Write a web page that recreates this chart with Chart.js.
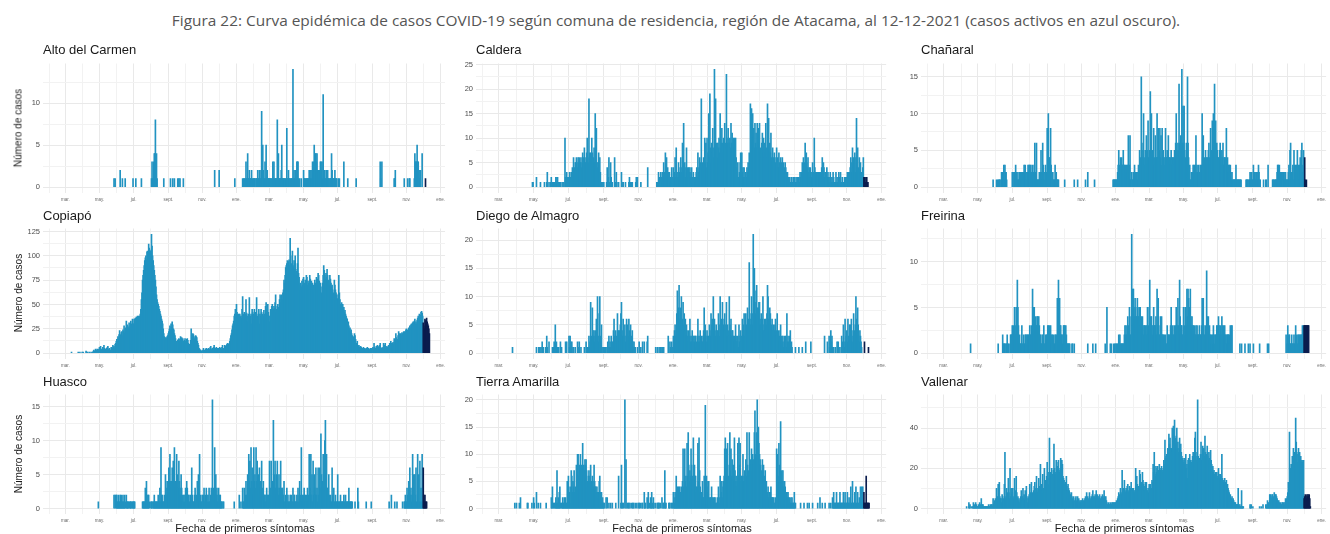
<!DOCTYPE html>
<html lang="es">
<head>
<meta charset="utf-8">
<script src="https://cdn.jsdelivr.net/npm/chart.js"></script>
<style>
  body { margin: 0; background: #fff; width: 1330px; height: 534px; position: relative; overflow: hidden;
         font-family: "Liberation Sans", Arial, sans-serif; }
  canvas { position: absolute; }
  #titulo { position: absolute; left: 676px; top: 20px; white-space: nowrap; font-family: "Open Sans", "Noto Sans", sans-serif;
            font-size: 15px; color: #555; transform: translate(-50%, -50%); }
  .panel { position: absolute; font-size: 13px; line-height: 16px; color: #1a1a1a; white-space: nowrap; }
  .eje-y { position: absolute; font-size: 10px; color: #1a1a1a; white-space: nowrap; transform: translate(-50%, -50%) rotate(-90deg); }
  .eje-x { position: absolute; font-size: 11px; color: #1a1a1a; white-space: nowrap; transform: translate(-50%, -50%); }
</style>
</head>
<body>
<div id="titulo">Figura 22: Curva epidémica de casos COVID-19 según comuna de residencia, región de Atacama, al 12-12-2021 (casos activos en azul oscuro).</div>
<script>
// Comunas (panels), left to right, top to bottom
const comunas = ['Alto del Carmen', 'Caldera', 'Chañaral', 'Copiapó', 'Diego de Almagro', 'Freirina', 'Huasco', 'Tierra Amarilla', 'Vallenar'];
const mesesEtiqueta = ['ene.', 'feb.', 'mar.', 'abr.', 'may.', 'jun.', 'jul.', 'ago.', 'sept.', 'oct.', 'nov.', 'dic.'];
const pasosY = [5, 5, 5, 25, 5, 5, 5, 5, 20];
const inicioActivos = '2021-12-01';
const ejeDesde = '2020-01-21';
const ejeHasta = '2022-01-09';

// Daily cases by date of first symptoms.
// One array per month, from March 2020 to December 2021; days not listed are 0.
const altoDelCarmen = [
  [], [],
  [0,0,0,0,0,0,0,0,0,0,0,0,0,0,0,0,0,0,0,0,0,0,0,0,0,0,1,0,1],
  [0,0,0,0,0,0,2,0,0,0,1,0,0,0,0,1,0,0,0,0,0,0,0,0,0,0,0,0,0,1],
  [0,0,0,0,1,0,0,0,0,0,0,0,0,0,1],
  [0,1,3,1,1,3,4,4,8,2,4,1,0,0,0,0,0,0,0,0,0,0,0,1],
  [0,0,0,0,1,0,0,0,1,0,0,1,0,0,0,0,0,1,0,1,0,1,0,0,0,0,0,1],
  [],
  [0,0,0,0,0,0,0,0,0,0,0,0,0,0,0,0,0,0,0,0,0,0,2],
  [2,0,0,0,0,0,0,0,0,0,0,0,0,0,0,0,0,0,0,0,0,0,0,0,0,0,0,0,1],
  [0,0,0,0,0,0,0,0,0,0,0,1,0,1,1,0,1,3,1,1,4,1,1,2,1,1,1,2,1,0,1],
  [1,1,1,0,1,1,1,2,1,1,2,2,1,1,9,1,5,2,1,1,3,1,5,1,2,1,1,1],
  [1,1,1,0,1,1,3,1,3,1,1,1,1,1,8,2,4,1,1,1,1,2,5,1,1,1,1,1,0,1,1],
  [7,1,1,2,1,1,1,0,1,1,1,14,1,2,1,1,2,1,3,3,3,1,0,1,0,0,1],
  [2,1,1,1,0,1,1,1,1,1,2,1,1,2,1,2,3,2,3,5,2,4,4,3,4,2,2,2,1,2,3],
  [3,2,3,1,11,1,2,2,1,1,2,1,2,1,1,0,1,1,1,4,2,1,1,1,1,2,1,1,1],
  [0,1,0,1,0,0,0,0,0,0,0,3,0,0,0,0,0,0,1],
  [0,0,1],
  [0,0,0,0,0,0,0,0,0,0,0,0,0,0,3,1,0,3],
  [0,0,0,0,0,0,0,0,0,1,1,2,0,0,0,0,0,0,0,0,0,0,0,0,0,0,0,1],
  [0,0,1,0,0,1,1,0,0,0,0,0,0,0,1,4,3,3,3,5,3,3,2,1,2,2,0,0,4],
  [0,0,0,0,1]
];
const caldera = [
  [],
  [0,0,0,0,0,0,0,0,0,0,0,0,0,0,0,0,0,0,0,0,0,0,0,0,0,0,0,0,1,1],
  [0,0,0,0,0,2,0,0,0,0,0,0,1,0,0,0,0,0,0,1,0,0,0,1,3,0,0,1,0,0,1],
  [2,0,1,1,1,0,1,1,2,1,2,2,1,0,1,1,1,0,0,1,0,0,1,0,10,2,1,3,2,1],
  [2,1,3,1,2,3,1,4,2,6,3,4,5,5,6,5,4,6,5,6,5,5,6,4,5,7,6,5,8,6,5],
  [5,7,10,6,5,18,7,5,7,6,10,7,5,6,8,5,15,6,12,5,4,5,7,5,6,3,1,1,1,0,1],
  [1,0,0,0,0,1,4,1,2,6,1,0,5,2,0,1,0,0,0,6,1,0,3,1,0,0,1],
  [0,3,1,0,1,0,0,0,1,0,0,0,0,0,1,2,1,1,0,1,1,0,0,0,0,0,1,2,1,2],
  [0,0,0,0,1,0,0,0,0,0,0,0,0,0,0,0,4],
  [0,0,1,1,1,3,1,2,1,3,2,1,3,2,5,3,2,7,3,6,2,4,2,3,3,1,2,1,4,1,2],
  [4,2,3,6,2,8,3,2,3,5,2,3,4,6,3,4,9,4,13,3,5,2,4,8,3,4,2,4,3,4,2],
  [3,4,2,1,3,1,2,1,2,3,4,2,7,3,4,6,3,5,18,4,5,3,6,4,10,5,9,4],
  [10,5,7,15,6,19,8,5,9,7,12,6,8,24,9,18,7,9,6,9,8,10,7,15,8,9,12,9,7,10,9],
  [13,9,8,23,10,9,12,9,9,10,8,13,9,11,9,10,8,10,9,10,6,4,3,5,2,1,3,5,7,4],
  [7,3,4,2,4,2,1,3,2,4,3,5,4,7,6,17,8,16,9,15,10,12,8,13,9,11,8,13,10,12,9],
  [13,7,8,6,9,11,7,10,6,9,7,13,8,6,17,9,14,8,9,7,11,6,5,8,6,5,7,4,5,6],
  [8,4,6,4,7,5,4,6,4,5,6,4,5,3,4,5,4,3,2,3,2,2,1,2,1,1,2,1,1,2,1],
  [2,1,1,2,1,2,1,2,2,1,3,2,3,2,5,3,6,4,5,9,6,7,5,4,6,3,4,2,4,3,2],
  [3,5,2,3,10,4,3,2,3,2,3,2,3,3,2,3,2,4,6,3,5,4,2,3,3,2,4,2,3,2],
  [2,1,3,2,1,2,1,3,2,1,1,1,3,1,2,1,1,3,2,1,3,1,1,2,1,1,1,2,1,2,1],
  [2,3,1,3,2,3,4,6,3,5,8,4,6,5,7,3,6,14,5,8,4,3,6,3,5,3,3,3,4,6],
  [2,2,2,1,1,2,1,1]
];
const chanaral = [
  [], [],
  [0,0,0,0,0,0,0,0,0,0,0,0,0,0,0,0,0,0,0,0,0,0,0,0,0,0,0,1],
  [0,0,1,0,1,0,1,1,1,0,1,2,1,2,2,3,1,3,2,2,1],
  [2,2,0,2,2,1,3,2,0,1,2,1,1,2,2,2,1,2,2,1,2,3,2,3,2,1,2,2,3,2,3],
  [3,2,3,2,2,3,1,2,3,6,2,1,6,1,1,1,1,2,1,2,5,2,1,6,3,2,1,2,3,2,2],
  [8,5,10,4,4,2,8,3,2,1,2,1,1,1,3,1,2,1,1,1,1],
  [0,1,0,0,0,0,0,0,0,0,0,0,0,0,0,0,0,0,1,0,0,0,0,0,1],
  [0,0,0,0,0,0,0,1,0,0,0,2,0,0,0,0,0,0,0,0,0,0,0,1],
  [0,0,0,0,0,0,0,0,0,0,0,0,0,0,0,0,0,0,0,0,0,0,0,0,0,0,1,1,1,1,1],
  [1,1,1,2,3,5,3,2,4,3,4,3,3,5,3,3,2,3,2,3,2,3,7,2,3,7,1,1,2,1,1],
  [2,1,3,1,2,1,2,1,2,3,2,5,3,4,15,6,4,5,10,4,3,5,4,7,3,5,9,4],
  [4,5,13,6,10,4,5,4,8,4,3,7,4,4,10,4,8,4,5,8,4,7,3,8,4,5,4,3,4,8,4],
  [4,5,4,7,4,4,3,4,5,4,3,4,4,3,5,4,6,10,4,5,6,5,14,6,4,7,5,16,6,11],
  [6,11,5,4,2,6,4,15,6,4,2,3,1,1,2,2,2,3,2,3,1,3,7,2,3,2,2,3,2,1,3],
  [2,3,10,4,7,3,4,3,5,3,4,4,3,5,6,4,3,8,4,5,9,6,10,5,14,6,9,5,6,5],
  [4,4,3,5,6,4,3,5,4,6,3,4,4,3,4,8,3,4,2,3,3,2,3,2,1,2,1,1,1,1,1],
  [1,3,1,1,1,1,1,1,1,1,1,0,0,0,0,0,0,0,0,1,1,1,1,0,1,1,2,1,2,2,1],
  [1,3,1,2,2,1,1,2,1,2,3,2,1,1,0,0,0,0,0,1,0,0,0,1,1,0,0,3],
  [0,0,0,0,0,1,1,1,0,1,1,1,1,2,3,3,2,3,1,2,1,2,2,1,2,2,1,2,2,1,1],
  [1,1,2,3,1,5,6,2,1,2,3,1,5,3,1,3,2,3,5,2,3,1,3,4,3,5,6,2,3,5],
  [0,4,1,0,1]
];
const copiapo = [
  [0,0,0,0,0,0,0,0,0,0,0,1,0,0,0,0,0,0,0,0,0,0,0,1,0,0,1,0,0,0,1],
  [0,1,0,0,0,0,2,1,0,1,0,0,1,0,0,1,0,0,1,2,3,2,1,4,3,2,4,3,2,4],
  [6,5,7,3,4,2,6,4,8,5,3,4,2,5,6,7,3,4,5,2,3,6,4,5,8,6,7,5,9,10,12],
  [14,12,17,15,19,23,16,19,21,22,18,24,22,28,20,25,26,33,25,29,27,25,31,26,28,33,30,29,35,30],
  [30,35,33,36,34,37,35,38,36,38,37,38,40,45,55,62,75,80,85,90,95,98,100,96,104,105,103,112,108,106,104],
  [105,122,110,100,95,90,85,80,75,68,60,55,52,50,48,45,43,40,38,35,33,30,25,20,17,16,15,16,15,17,18],
  [20,22,25,28,24,30,27,32,29,25,24,20,18,15,10,12,11,13,14,15,12,14,17,13,16,14,15,12,10,13],
  [15,12,10,14,15,13,10,8,9,7,13,25,18,16,20,19,17,15,13,18,17,16,12,10,8,5,4,3,3,2,2],
  [2,3,5,2,3,2,4,5,3,4,2,5,4,3,6,7,3,4,5,3,6,8,5,4,5,6,3,5,4,5],
  [4,6,5,3,4,6,8,5,4,5,8,7,5,8,9,10,8,9,10,12,15,18,20,24,28,30,33,38,40,45,42],
  [50,42,40,38,40,39,40,37,38,36,45,58,40,38,42,39,40,55,41,38,32,40,36,57,35,38,40,30,45,42,38],
  [40,45,38,42,40,57,36,38,40,45,30,40,38,45,42,40,35,38,44,40,35,48,52,40,45,50,42,38],
  [32,38,45,40,48,50,42,45,48,46,52,60,45,42,48,50,47,45,55,60,52,58,60,55,62,65,75,72,80,88,90],
  [92,95,88,94,96,90,118,100,85,92,105,90,88,95,92,100,86,80,84,92,108,82,78,70,72,65,68,74,70,76],
  [78,72,68,75,72,80,78,70,74,72,65,80,76,70,74,68,72,65,70,62,75,72,70,78,74,76,82,80,74,70,72],
  [68,62,60,72,80,90,85,80,76,82,78,86,80,72,75,70,80,76,72,68,70,65,60,62,75,70,65,62,60,56],
  [55,60,80,62,55,50,48,52,46,50,45,47,42,44,40,38,36,35,30,32,28,25,26,22,24,20,18,15,16,17,20],
  [18,14,10,9,12,8,7,8,6,5,7,6,5,4,5,6,4,5,4,3,5,4,6,5,5,4,3,4,5,4,5],
  [5,6,4,10,6,5,5,7,6,8,7,6,5,8,10,6,5,4,5,6,10,7,8,10,6,5,7,6,5,8],
  [8,10,9,12,10,8,10,11,9,15,12,14,20,16,12,14,18,22,16,20,19,20,18,21,20,19,22,20,22,21,24],
  [25,22,24,20,26,24,28,26,29,30,27,31,32,28,33,35,30,32,30,34,36,38,35,40,37,39,42,43,41,38],
  [31,28,25,35,33,34,36,32,30,28,25,20]
];
const diegoDeAlmagro = [
  [0,0,0,0,0,0,0,0,0,0,0,0,0,0,0,0,0,0,0,0,0,0,0,0,1],
  [],
  [0,0,0,0,0,1,0,0,0,1,0,1,0,1,0,2,0,1,0,0,0,1,0,3,1,0,0,2],
  [0,0,1,0,1,2,0,5,1,2,1,1,0,1,0,0,2,1,1,0,0,0,0,0,0,2,1,2],
  [0,3,1,3,2,1,2,0,1,1,0,0,1,0,0,0,2,1,0,2,0,0,1,0,0,0,0,0,1],
  [2,1,1,0,1,3,1,2,9,3,2,8,4,3,4,2,3,4,6,2,10,3,2,7,10,3,2,5,1,0,1],
  [0,1,0,1,1,0,0,2,1,3,1,2,1,3,2,2,1,4,6,3,2,4,3,2,7,3,4,4,2,5],
  [7,9,4,3,6,4,3,5,2,3,6,5,4,3,6,4,3,5,3,2,4,2,1,2,1,1,0,0,0,1],
  [0,2,0,0,1,0,0,2,0,0,2,0,0,0,0,2,3],
  [1,0,0,1,0,0,1,0,0,1,0,1,1,0,1,0,0,0,0,0,0,0,3,0,0,2,1,0,2,0,1],
  [3,2,4,5,3,4,7,11,4,8,12,6,8,5,10,4,6,9,5,7,4,6,3,5,4,3,2,4,3,6,2],
  [3,2,4,3,2,3,2,3,3,2,1,3,6,2,3,2,4,2,3,2,2,3,4,8,4,5,3,2],
  [4,3,2,3,5,4,3,7,5,6,3,10,5,6,4,3,5,4,3,4,7,5,3,10,4,6,5,9,4,5,6],
  [7,4,5,9,3,5,4,3,10,5,4,6,3,4,4,3,2,3,2,5,3,2,2,3,1,5,2,3,4,2],
  [3,6,4,5,7,3,4,7,5,4,8,5,6,16,7,5,6,10,7,5,21,8,15,9,7,11,12,8,6,8,9],
  [9,6,5,7,4,6,10,4,5,6,4,6,5,7,12,10,6,5,8,7,4,5,6,4,5,3,4,5,6,3],
  [4,7,3,4,2,3,4,5,2,3,2,3,1,2,3,2,3,1,7,2,3,2,1,3,4,1,2,1],
  [0,0,1,0,0,0,0,0,1,0,0,0,0,0,1,0,0,0,0,0,2,0,0,0,0,0,0,0,0,2],
  [0,0,0,0,0,0,0,0,0,0,0,0,0,0,0,0,0,0,0,0,0,0,3,0,0,0,0,2],
  [3,1,2,4,2,3,1,0,1,0,0,1,0,0,2,1,2,1,0,1,0,0,3,1,2,5,2,1,6,2,3],
  [4,2,6,3,2,5,5,3,6,4,2,3,7,4,3,5,10,6,4,8,5,3,2,4,3,2,1],
  [0,2,0,0,0,0,0,0,1]
];
const freirina = [
  [],
  [0,0,0,0,0,0,0,0,0,0,0,0,0,0,0,0,0,1],
  [],
  [0,0,0,0,0,1,0,0,0,0,0,0,0,2,1,1,1,1,0,1,1,2,1,1,0,0,1,2,2,2],
  [3,2,3,2,5,3,2,5,3,8,5,3,1,2,1,1,1,3,1,1,2,1,1,2,2,1,2,2,1,2,2],
  [3,2,2,3,2,7,3,5,5,3,4,3,3,4,4,3,4,3,2,2,1,1,2,1,2,3,1,1,2,1,2],
  [2,3,3,2,3,2,3,1,2,2,1,2,1,1,2,2,1,2,6,5,8,4,6,3,3,2,2,1,2,3],
  [3,3,2,3,2,1,1,1,1,1,1,0,0,0,1,1,0,0,1],
  [0,0,0,0,0,0,0,0,0,0,0,1,0,0,0,0,0,0,0,0,1,0,0,0,0,1],
  [0,0,0,0,0,0,0,0,0,0,0,0,1,0,0,5,0,0,0,0,0,1,0,1,0,0,0,1,0,1],
  [1,1,0,1,1,2,1,2,1,1,1,1,1,1,1,2,3,2,3,2,2,4,3,2,5,2,2,4,13,3,7],
  [7,5,4,6,5,4,4,6,5,4,4,5,5,3,4,3,4,3,2,3,3,2,3,2,3,5,2,3],
  [5,8,3,4,4,3,2,3,5,3,3,3,4,2,7,3,6,3,2,2,4,3,4,2,2,2,1,2,1,2,1],
  [1,3,1,2,2,2,1,3,5,2,2,3,2,2,3,2,3,5,2,3,6,3,2,8,4,2,3,3,2,2],
  [5,3,2,5,5,3,7,4,7,6,3,5,7,4,3,4,3,3,2,3,2,2,3,2,3,2,2,2,3,2,2],
  [2,3,6,2,6,3,2,2,3,2,9,4,3,4,2,3,2,2,1,2,1,2,3,2,1,2,2,1,3,3],
  [2,4,3,2,3,2,2,4,3,2,3,2,3,2,2,1,2,2,2,2,2,1,3,1,3,3],
  [0,0,0,0,0,0,0,0,1,0,0,1,0,0,0,0,0,1,0,0,0,0,0,1,0,0,1],
  [0,1,0,0,0,0,0,0,0,0,0,0,1,0,0,0,0,0,0,0,0,0,0,0,0,0,1,0,1],
  [0,0,0,0,0,0,0,0,0,0,0,0,0,0,0,0,0,0,0,0,0,0,0,0,0,0,0,0,0,2],
  [1,3,1,2,2,1,1,1,2,1,1,1,2,1,1,3,2,1,1,2,2,1,2,2,1,2,2,3,2,3],
  [3,3,3,3,3,3,3,3,3]
];
const huasco = [
  [],
  [0,0,0,0,0,0,0,0,0,0,0,0,0,0,0,0,0,0,0,0,0,0,0,0,0,0,0,0,1],
  [0,0,0,0,0,0,0,0,0,0,0,0,0,0,0,0,0,0,0,0,0,0,0,0,0,0,2,0,2,0,2],
  [2,1,1,2,1,1,2,1,2,1,1,2,1,1,2,1,0,2,1,1,1,1,0,1,1,1,1,0,1,1],
  [1,1,1,0,0,0,0,0,0,0,0,0,0,0,0,0,1,1,1,1,1,3,1,4,2,1,2,2,1],
  [1,1,1,0,1,1,2,1,1,1,1,1,1,2,1,1,3,1,9,2,2,1,1,1,2,1,5,3,2,4,3],
  [2,6,4,8,4,3,4,6,3,7,4,9,3,4,4,8,5,4,3,7,4,3,2,5,3,1,2,1,2,1],
  [2,3,2,4,3,1,2,2,1,1,2,1,6,2,1,1,1,2,3,1,2,1,4,2,5,1,8,1,2,1,1],
  [2,1,2,3,1,2,1,3,2,1,2,1,3,1,1,2,3,1,16,2,3,1,9,2,5,2,3,1,2,3],
  [1,2,2,1,1,1,0,1,1,0,0,0,0,0,0,0,0,0,0,0,0,0,0,0,0,0,0,1],
  [0,0,0,0,0,2,0,0,1,0,0,3,1,1,3,1,2,4,2,1,5,3,8,4,7,3,9,4,6,3,2],
  [9,4,5,3,9,4,7,3,5,2,6,3,4,2,7,2,3,4,2,2,2,1,2,3,1,2,2,1],
  [7,2,3,7,2,4,2,13,3,5,7,3,2,5,7,3,2,5,3,2,7,2,3,3,2,2,4,1,1,2,1],
  [3,1,2,1,1,1,2,1,2,1,1,3,1,2,2,1,1,1,2,1,3,1,2,4,2,1,9,1,2,1],
  [2,3,1,2,1,2,1,3,1,2,8,3,2,8,2,5,1,7,2,5,3,2,6,2,3,1,6,2,1,6,3],
  [11,5,3,4,8,4,3,10,13,4,8,3,3,2,5,2,1,2,1,1,6,2,1,3,1,1,2,1,1,1],
  [5,1,1,1,1,2,1,1,1,1,1,2,1,1,2,1,1,1,1,1,3,1,1,1,1,1,1],
  [1,0,0,0,0,3,1,0,0,0,0,0,0,0,0,0,0,0,0,0,1,0,0,0,0,0,0,0,0,1],
  [],
  [1,0,0,0,2,0,0,0,0,0,1,0,0,0,1,0,0,0,0,0,0,0,0,0,1,0,0,1,1,2,1],
  [1,3,2,1,4,1,6,2,3,1,2,8,3,5,1,5,2,6,1,1,8,2,5,1,7,1,3,1,8,1],
  [6,2,1,2,1,1,1]
];
const tierraAmarilla = [
  [0,0,0,0,0,0,0,0,0,0,0,0,0,0,0,0,0,0,0,0,0,0,0,0,0,0,0,0,1],
  [1,0,0,0,0,1,0,2,0,0,0,0,0,0,0,0,0,0,0,1,1,0,0,0,0,0,0,1],
  [2,1,0,0,0,3,0,0,1,0,0,0,1,0,0,0,0,0,0,0,0,0,1],
  [2,1,4,0,1,1,0,1,2,1,7,1,2,1,3,4,1,0,1,1,2,1,1,2,1,2,1,1,5,1],
  [6,2,3,4,1,7,6,3,5,4,7,3,3,4,8,5,10,10,6,8,5,10,7,8,5,12,6,8,7,9,8],
  [9,7,5,4,6,7,5,6,8,5,4,6,5,4,8,5,4,4,3,4,3,2,3,5,6,3,2,3,1,2,1],
  [1,1,0,0,2,0,2,0,0,1,0,0,1,0,0,1,0,0,0,0,0,1,0,0,0,0,6],
  [1,8,0,1,1,0,0,20,0,9,0,1,0,1,1,0,1,0,0,1,0,1,1,0,0,1,0,0,1],
  [1,1,0,1,0,0,1,1,0,0,3,1,1,0,0,2,1,3,0,1,0,2,1,3,0,1,2,1],
  [1,0,0,1,1,1,1,0,1,0,0,2,0,1,1,0,7,1,1,0,0,0,0,1,1,1,0,0,1,1],
  [3,2,1,3,2,6,3,4,2,4,3,4,2,3,4,3,5,11,4,3,11,5,6,4,12,6,14,8,5,7,6],
  [11,8,6,5,13,7,8,6,6,4,3,4,12,5,13,7,4,3,3,2,5,2,2,6,3,19,4,6],
  [5,3,4,5,2,1,2,2,4,2,1,2,1,2,2,1,1,1,2,1,4,2,1,6,2,3,5,2,4,5,6],
  [11,13,8,11,6,12,5,6,8,14,7,11,6,9,6,8,5,13,7,5,6,4,5,12,6,13,8,12,5,6],
  [4,6,10,5,6,7,5,9,6,14,8,5,7,14,6,9,8,11,7,10,8,9,14,18,10,9,14,20,11,15,12],
  [10,9,8,7,6,9,7,8,5,6,7,4,5,3,3,4,2,3,2,3,4,2,2,2,1,2,1,1,2,1],
  [11,10,6,5,12,8,7,16,6,7,5,7,4,5,5,4,3,3,3,2,3,2,2,1,1,2,1,2,1,1,1],
  [3,1,1,0,0,0,0,0,0,0,0,1,0,0,0,0,0,1,0,0,0,0,0,1,0,0,1],
  [0,1,0,0,0,0,0,0,0,0,1,0,0,0,2,0,0,0,1,0,0,0,0,1],
  [1,0,0,1,0,0,2,1,3,1,1,1,1,3,1,1,1,1,1,3,1,1,1,1,1,3,1,1,3,1,1],
  [1,3,1,1,2,1,1,4,1,1,5,1,1,1,3,1,4,1,1,3,1,1,2,1,4,1,4,1,4,1],
  [3,1,1,1,6,1,1,1,1,1]
];
const vallenar = [
  [],
  [0,0,0,0,0,0,0,0,0,0,1,0,0,0,3,1,2,0,0,1,0,1,3,1,2,1,3,2,1,1],
  [1,2,1,3,1,2,5,1,2,2,1,1,1,1,1,1,1,1,1,2,1,1,2,1,2,2,1,5,2,3,4],
  [5,4,10,5,6,12,4,13,6,5,5,3,7,6,5,4,12,28,5,6,10,7,8,15,8,5,20,6,10,7],
  [8,10,5,6,15,7,9,16,8,5,6,4,5,3,4,6,9,4,6,10,5,7,4,9,6,11,5,3,6,5,7],
  [12,8,6,13,6,8,7,9,11,13,8,10,16,10,8,9,15,11,10,22,12,12,9,17,10,8,20,11,14,12,16],
  [23,15,12,18,35,14,18,16,20,17,15,19,32,20,18,17,24,23,20,21,24,19,18,20,25,17,24,22,16,15],
  [14,12,10,13,16,11,9,12,10,9,8,7,6,8,6,5,4,6,3,4,5,6,4,3,6,4,5,3,4,3,4],
  [4,3,5,4,3,4,5,6,4,8,5,6,4,5,8,5,4,6,5,7,9,6,5,6,7,5,9,6,7,6],
  [5,6,7,5,4,6,5,7,6,5,9,6,5,6,4,3,2,2,3,2,2,3,2,2,3,3,2,3,3,2,3],
  [3,4,3,5,6,8,7,6,10,8,7,19,9,10,8,14,9,8,10,9,11,12,8,9,11,9,10,13,9,10,8],
  [10,9,8,9,20,11,16,12,10,11,9,19,17,12,11,13,18,14,12,11,9,13,10,13,9,9,10,8],
  [12,11,12,10,10,14,13,22,18,28,17,16,21,18,20,21,19,17,22,18,19,20,21,19,18,20,24,22,34,25,26],
  [27,25,30,28,37,32,35,30,30,28,40,33,41,36,44,35,32,36,40,30,33,28,30,35,30,32,28,26,25,24],
  [23,25,22,24,27,20,22,15,24,25,22,27,24,24,23,21,26,28,24,27,35,38,26,24,28,54,26,23,25,24,27],
  [33,24,27,31,28,30,26,36,28,25,27,31,26,24,28,25,23,29,24,22,20,21,18,19,17,16,18,17,18,15],
  [16,20,17,15,17,14,16,27,15,14,13,14,15,13,12,14,11,12,10,9,8,6,7,5,5,6,4,5,4,3,3],
  [3,2,2,2,2,10,2,1,2,1,1,9,1,1,1,0,0,0,0,0,0,0,0,0,0,0,2,1,2],
  [1,0,0,0,0,0,0,0,0,0,0,0,1,0,0,1,0,0,2,0,0,0,0,2,1,2,4,3,2,3],
  [7,7,6,5,7,7,6,5,8,6,7,7,6,5,4,3,4,3,2,3,2,2,3,3,2,3,2,3,5,4,5],
  [6,8,13,9,38,15,20,22,18,26,24,30,26,28,26,45,33,28,23,27,30,23,28,25,26,23,24,23,24,24],
  [5,6,7,6,5,7,6,7,6,7,5,1]
];

const series = [altoDelCarmen, caldera, chanaral, copiapo, diegoDeAlmagro, freirina, huasco, tierraAmarilla, vallenar];

const claro = '#2193c1';
const oscuro = '#0b1d4e';

// Panel geometry: plot-area left edge and width per column, top and bottom per row
const columnas = [[43, 404], [476, 412], [921, 407]];
const filas = [[62, 193], [227, 359], [393, 514]];
const tituloFilaY = [50, 216, 382];

function aDia(s) {
    const [a, m, d] = s.split('-').map(Number);
    return Date.UTC(a, m - 1, d) / 864e5;
}

const diaActivos = aDia(inicioActivos);
const xMin = aDia(ejeDesde);
const xMax = aDia(ejeHasta);

// month starts from Feb 2020 to Jan 2022 (vertical grid), labelled every other month
const ticksMes = [];
for (let m = 1; m <= 24; m++) {
    ticksMes.push({ value: Date.UTC(2020, m, 1) / 864e5, mes: m % 12 });
}

function puntos(meses) {
    const out = [];
    meses.forEach((valores, m) => {
        const base = Date.UTC(2020, 2 + m, 1) / 864e5;
        valores.forEach((v, d) => {
            if (v > 0) out.push({ x: base + d, y: v });
        });
    });
    return out;
}

function agregarTexto(clase, texto, left, top) {
    const el = document.createElement('div');
    el.className = clase;
    el.textContent = texto;
    el.style.left = left + 'px';
    el.style.top = top + 'px';
    document.body.appendChild(el);
    return el;
}

const fuente = '"Liberation Sans", Arial, sans-serif';
const ejeW = 40, ejeH = 14, margenSup = 6;

comunas.forEach((nombre, k) => {
    const fila = Math.floor(k / 3), col = k % 3;
    const [L, W] = columnas[col];
    const [T, B] = filas[fila];
    const paso = pasosY[k];
    const datos = puntos(series[k]);
    const maximo = Math.max(...datos.map(p => p.y));

    const canvas = document.createElement('canvas');
    canvas.width = ejeW + W + 2;
    canvas.height = margenSup + (B - T) + ejeH;
    canvas.style.left = (L - ejeW) + 'px';
    canvas.style.top = (T - margenSup) + 'px';
    document.body.appendChild(canvas);

    const t = agregarTexto('panel', nombre, L, tituloFilaY[fila] - 8);
    if (col === 0) agregarTexto('eje-y', 'Número de casos', 18, (T + B) / 2);
    if (fila === 2) agregarTexto('eje-x', 'Fecha de primeros síntomas', L + W / 2, 528);

    const ticksY = [];
    for (let v = 0; v <= maximo * 1.05; v += paso / 2) ticksY.push({ value: v });

    new Chart(canvas, {
        type: 'bar',
        data: {
            datasets: [{
                data: datos,
                backgroundColor: c => (c.raw && c.raw.x >= diaActivos) ? oscuro : claro,
                borderWidth: 0,
                barThickness: 1,
                grouped: false
            }]
        },
        options: {
            responsive: false,
            animation: false,
            events: [],
            layout: { padding: { top: margenSup, right: 2, left: 0, bottom: 0 } },
            plugins: { legend: { display: false }, tooltip: { enabled: false }, title: { display: false } },
            scales: {
                x: {
                    type: 'linear',
                    offset: false,
                    min: xMin,
                    max: xMax,
                    afterBuildTicks: s => { s.ticks = ticksMes.map(m => ({ value: m.value })); },
                    afterFit: s => { s.height = ejeH; },
                    ticks: {
                        autoSkip: false, maxRotation: 0, minRotation: 0, padding: 4,
                        color: '#6b6b6b', font: { family: fuente, size: 4.5 },
                        callback: (v, i) => ticksMes[i].mes % 2 === 0 ? mesesEtiqueta[ticksMes[i].mes] : ''
                    },
                    grid: {
                        offset: false, drawTicks: false, lineWidth: 1,
                        color: c => (ticksMes[c.index] && ticksMes[c.index].mes % 2 === 0) ? '#e9e9e9' : '#f2f2f2'
                    },
                    border: { display: false }
                },
                y: {
                    min: -0.05 * maximo,
                    max: 1.05 * maximo,
                    afterBuildTicks: s => { s.ticks = ticksY.map(o => ({ value: o.value })); },
                    afterFit: s => { s.width = ejeW; },
                    ticks: {
                        padding: 3, color: '#4d4d4d', font: { family: fuente, size: 7.5 },
                        callback: v => (v % paso === 0 ? String(v) : '')
                    },
                    grid: {
                        drawTicks: false, lineWidth: 1,
                        color: c => (c.tick && c.tick.value % paso === 0) ? '#e9e9e9' : '#f2f2f2'
                    },
                    border: { display: false }
                }
            }
        }
    });
});

// squeeze the figure caption to the width it has in the document
const titulo = document.getElementById('titulo');
const ancho = titulo.getBoundingClientRect().width;
titulo.style.transform = 'translate(-50%, -50%) scaleX(' + (1008 / ancho).toFixed(3) + ')';
</script>
</body>
</html>
